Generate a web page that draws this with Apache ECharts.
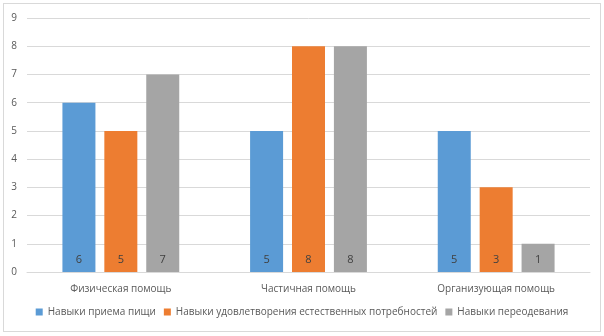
<!DOCTYPE html>
<html>
<head>
<meta charset="utf-8">
<script src="https://cdn.jsdelivr.net/npm/echarts@6/dist/echarts.min.js"></script>
<style>
  html, body { margin: 0; padding: 0; background: #fff; }
  .frame {
    position: absolute; left: 3px; top: 3px;
    width: 596px; height: 327px;
    border: 1px solid #d9d9d9;
  }
  #chart { position: absolute; left: 0; top: 0; width: 604px; height: 336px; }
</style>
</head>
<body>
<div class="frame"></div>
<div id="chart"></div>
<script>
const categories = ["Физическая помощь", "Частичная помощь", "Организующая помощь"];
const seriesNames = [
  "Навыки приема пищи",
  "Навыки удовлетворения естественных потребностей",
  "Навыки переодевания"
];
const eating = [6, 5, 5];
const toilet = [5, 8, 3];
const dressing = [7, 8, 1];
const yTicks = [0, 1, 2, 3, 4, 5, 6, 7, 8, 9];

const colors = ["#5B9BD5", "#ED7D31", "#A5A5A5"];
const chart = echarts.init(document.getElementById("chart"));

function bar(name, data) {
  return {
    name: name,
    type: "bar",
    data: data,
    barWidth: 33,
    barGap: "27%",
    label: {
      show: true,
      position: "insideBottom",
      distance: 7,
      color: "#404040",
      fontSize: 11,
      fontFamily: "Open Sans"
    }
  };
}

chart.setOption({
  color: colors,
  textStyle: { fontFamily: "Open Sans" },
  grid: { left: 27, right: 14, top: 18, bottom: 64 },
  legend: {
    bottom: 14,
    left: "center",
    icon: "rect",
    itemWidth: 7,
    itemHeight: 7,
    itemGap: 8,
    textStyle: { color: "#595959", fontSize: 10, fontFamily: "Open Sans" },
    data: seriesNames
  },
  xAxis: {
    type: "category",
    data: categories,
    axisLine: { lineStyle: { color: "#d9d9d9" } },
    axisTick: { show: false },
    axisLabel: { color: "#595959", fontSize: 10, margin: 12 }
  },
  yAxis: {
    type: "value",
    min: yTicks[0],
    max: yTicks[yTicks.length - 1],
    interval: 1,
    axisLine: { show: false },
    axisTick: { show: false },
    axisLabel: { color: "#595959", fontSize: 10, margin: 10 },
    splitLine: { lineStyle: { color: "#d9d9d9" } }
  },
  series: [
    bar(seriesNames[0], eating),
    bar(seriesNames[1], toilet),
    bar(seriesNames[2], dressing)
  ]
});
</script>
</body>
</html>
